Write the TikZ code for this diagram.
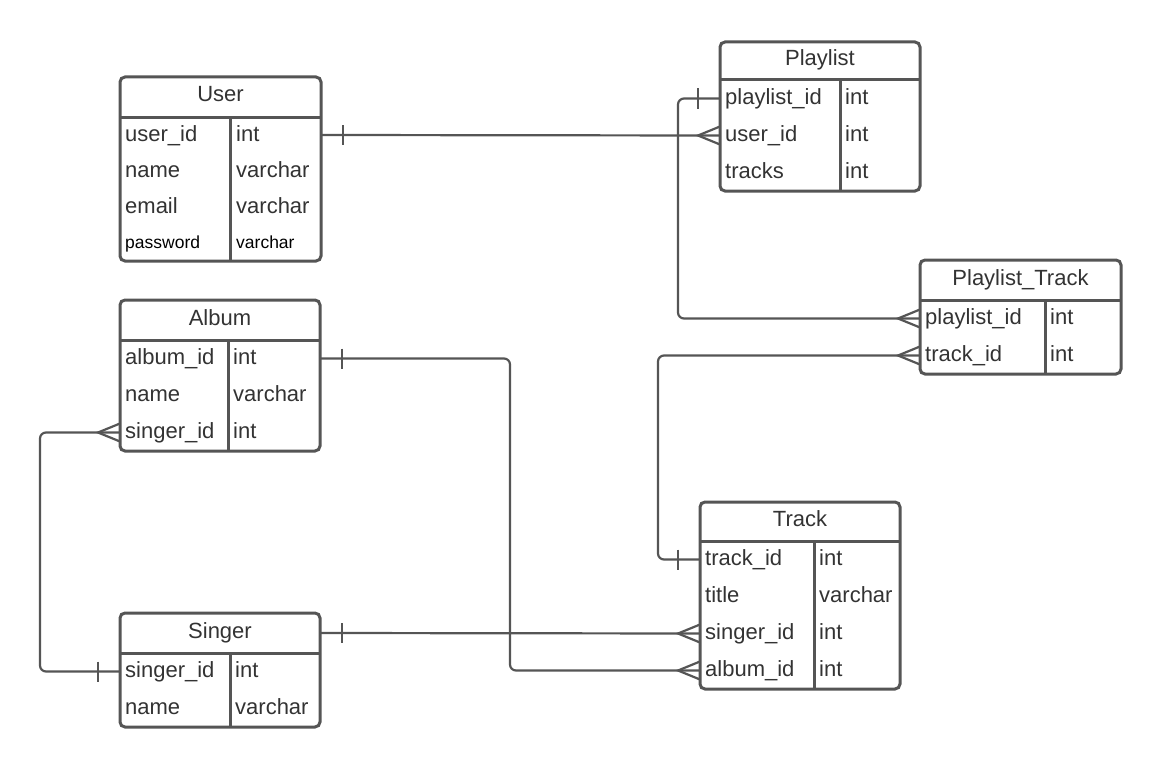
\documentclass[tikz,border=0pt]{standalone}
\usepackage{fontspec}
\setmainfont{Liberation Sans}
\definecolor{erline}{HTML}{555555}
\definecolor{ertext}{HTML}{333333}
\tikzset{
  tbl/.style={draw=erline, fill=white, line width=3pt, rounded corners=5pt,
    inner sep=0pt, outer sep=0pt},
  rule/.style={draw=erline, line width=3pt},
  rowspan/.style={inner sep=0pt, outer sep=0pt, minimum height=0pt},
  cell/.style={anchor=base west, inner sep=0pt, text=ertext, yshift=1pt,
    font=\fontsize{22}{26}\selectfont},
  smallcell/.style={cell, text=black, font=\fontsize{17.5}{21}\selectfont},
  head/.style={anchor=base, inner sep=0pt, text=ertext, yshift=1pt,
    font=\fontsize{22}{26}\selectfont},
  rel/.style={draw=erline, line width=2.2pt, rounded corners=6pt},
  crow/.pic={\draw[erline, line width=2.2pt] (0,-9) -- (-22,0) -- (0,9);},
  tickW/.pic={\draw[erline, line width=2.2pt] (-22,-10) -- (-22,10);},
  tickE/.pic={\draw[erline, line width=2.2pt] (22,-10) -- (22,10);}
}
\begin{document}
\begin{tikzpicture}[x=1pt,y=-1pt]
\useasboundingbox[fill=white] (0,0) rectangle (1160,768);

% ---------- row anchors (full-width, invisible) ----------
% User
\node[rowspan, minimum width=201pt] (user-r1) at (220.5,135) {};
\node[rowspan, minimum width=201pt] (user-r2) at (220.5,171) {};
\node[rowspan, minimum width=201pt] (user-r3) at (220.5,207) {};
\node[rowspan, minimum width=201pt] (user-r4) at (220.5,243) {};
% Playlist
\node[rowspan, minimum width=200pt] (playlist-r1) at (820,98.5) {};
\node[rowspan, minimum width=200pt] (playlist-r2) at (820,135.5) {};
\node[rowspan, minimum width=200pt] (playlist-r3) at (820,172.5) {};
% Playlist_Track
\node[rowspan, minimum width=201pt] (pt-r1) at (1020.5,318.5) {};
\node[rowspan, minimum width=201pt] (pt-r2) at (1020.5,355.5) {};
% Album
\node[rowspan, minimum width=200pt] (album-r1) at (220,358.5) {};
\node[rowspan, minimum width=200pt] (album-r2) at (220,395.5) {};
\node[rowspan, minimum width=200pt] (album-r3) at (220,432.5) {};
% Track
\node[rowspan, minimum width=200pt] (track-r1) at (800,559.5) {};
\node[rowspan, minimum width=200pt] (track-r2) at (800,596.5) {};
\node[rowspan, minimum width=200pt] (track-r3) at (800,633.5) {};
\node[rowspan, minimum width=200pt] (track-r4) at (800,670.5) {};
% Singer
\node[rowspan, minimum width=200pt] (singer-head) at (220,633) {};
\node[rowspan, minimum width=200pt] (singer-r1) at (220,671.5) {};
\node[rowspan, minimum width=200pt] (singer-r2) at (220,708.5) {};

% ---------- relationships ----------
\draw[rel] (user-r1.east) -- (playlist-r2.west);
\draw[rel] (playlist-r1.west) -- ++(-42,0) |- (pt-r1.west);
\draw[rel] (pt-r2.west) -- ++(-262,0) |- (track-r1.west);
\draw[rel] (album-r1.east) -- ++(190,0) |- (track-r4.west);
\draw[rel] (album-r3.west) -- ++(-80,0) |- (singer-r1.west);
\draw[rel] (singer-head.east) -- (track-r3.west);

\pic at (user-r1.east) {tickE};
\pic at (playlist-r2.west) {crow};
\pic at (playlist-r1.west) {tickW};
\pic at (pt-r1.west) {crow};
\pic at (pt-r2.west) {crow};
\pic at (track-r1.west) {tickW};
\pic at (album-r1.east) {tickE};
\pic at (track-r4.west) {crow};
\pic at (album-r3.west) {crow};
\pic at (singer-r1.west) {tickW};
\pic at (singer-head.east) {tickE};
\pic at (track-r3.west) {crow};

% ---------- User ----------
\node[tbl, minimum width=201pt, minimum height=184pt] (user) at (220.5,169) {};
\draw[rule] (120,117) -- (321,117);
\draw[rule] (230,117) -- (230,261);
\node[head] (user-title) at (220.5,103) {User};
\node[cell] (user-n1) at (125,142) {user\_id};
\node[cell] (user-t1) at (236,142) {int};
\node[cell] (user-n2) at (125,178) {name};
\node[cell] (user-t2) at (236,178) {varchar};
\node[cell] (user-n3) at (125,214) {email};
\node[cell] (user-t3) at (236,214) {varchar};
\node[smallcell] (user-n4) at (125,249) {password};
\node[smallcell] (user-t4) at (236,249) {varchar};

% ---------- Playlist ----------
\node[tbl, minimum width=200pt, minimum height=149pt] (playlist) at (820,116.5) {};
\draw[rule] (720,80) -- (920,80);
\draw[rule] (840,80) -- (840,191);
\node[head] (playlist-title) at (820,67) {Playlist};
\node[cell] (playlist-n1) at (725,105.5) {playlist\_id};
\node[cell] (playlist-t1) at (845,105.5) {int};
\node[cell] (playlist-n2) at (725,142.5) {user\_id};
\node[cell] (playlist-t2) at (845,142.5) {int};
\node[cell] (playlist-n3) at (725,179.5) {tracks};
\node[cell] (playlist-t3) at (845,179.5) {int};

% ---------- Playlist_Track ----------
\node[tbl, minimum width=201pt, minimum height=114pt] (pt) at (1020.5,317) {};
\draw[rule] (920,300) -- (1121,300);
\draw[rule] (1045,300) -- (1045,374);
\node[head] (pt-title) at (1020.5,286) {Playlist\_Track};
\node[cell] (pt-n1) at (925,325.5) {playlist\_id};
\node[cell] (pt-t1) at (1050,325.5) {int};
\node[cell] (pt-n2) at (925,362.5) {track\_id};
\node[cell] (pt-t2) at (1050,362.5) {int};

% ---------- Album ----------
\node[tbl, minimum width=200pt, minimum height=151pt] (album) at (220,375.5) {};
\draw[rule] (120,340) -- (320,340);
\draw[rule] (228,340) -- (228,451);
\node[head] (album-title) at (220,326) {Album};
\node[cell] (album-n1) at (125,365.5) {album\_id};
\node[cell] (album-t1) at (233,365.5) {int};
\node[cell] (album-n2) at (125,402.5) {name};
\node[cell] (album-t2) at (233,402.5) {varchar};
\node[cell] (album-n3) at (125,439.5) {singer\_id};
\node[cell] (album-t3) at (233,439.5) {int};

% ---------- Track ----------
\node[tbl, minimum width=200pt, minimum height=187pt] (track) at (800,595.5) {};
\draw[rule] (700,541) -- (900,541);
\draw[rule] (814,541) -- (814,689);
\node[head] (track-title) at (800,527) {Track};
\node[cell] (track-n1) at (705,566.5) {track\_id};
\node[cell] (track-t1) at (819,566.5) {int};
\node[cell] (track-n2) at (705,603.5) {title};
\node[cell] (track-t2) at (819,603.5) {varchar};
\node[cell] (track-n3) at (705,640.5) {singer\_id};
\node[cell] (track-t3) at (819,640.5) {int};
\node[cell] (track-n4) at (705,677.5) {album\_id};
\node[cell] (track-t4) at (819,677.5) {int};

% ---------- Singer ----------
\node[tbl, minimum width=200pt, minimum height=114pt] (singer) at (220,670) {};
\draw[rule] (120,653) -- (320,653);
\draw[rule] (230,653) -- (230,727);
\node[head] (singer-title) at (220,639) {Singer};
\node[cell] (singer-n1) at (125,678.5) {singer\_id};
\node[cell] (singer-t1) at (235,678.5) {int};
\node[cell] (singer-n2) at (125,715.5) {name};
\node[cell] (singer-t2) at (235,715.5) {varchar};
\end{tikzpicture}
\end{document}
